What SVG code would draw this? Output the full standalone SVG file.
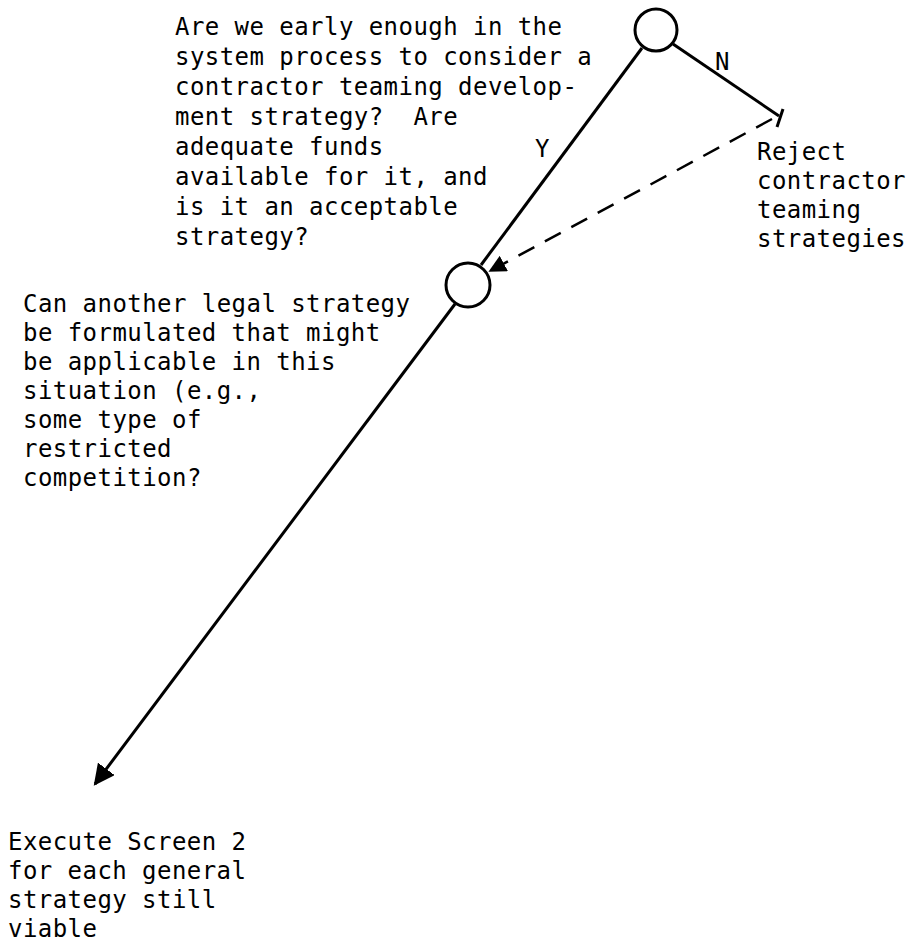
<svg xmlns="http://www.w3.org/2000/svg" width="922" height="945" viewBox="0 0 922 945">
  <style>
    .t { font-family: "DejaVu Sans Mono", "Liberation Mono", monospace; font-size: 24px; letter-spacing: 0.45px; fill: #000; white-space: pre; }
    .node { fill: #fff; stroke: #000; stroke-width: 3; }
    .edge { stroke: #000; stroke-width: 3; fill: none; }
    .dash { stroke: #000; stroke-width: 2.5; fill: none; stroke-dasharray: 18 12; }
  </style>
  <defs>
    <marker id="arrow" viewBox="0 0 10 10" refX="9" refY="5" markerWidth="7" markerHeight="7" orient="auto">
      <path d="M0,0 L10,5 L0,10 Z" fill="#000"/>
    </marker>
  </defs>

  <!-- connectors -->
  <g id="connectors">
    <line class="edge" x1="642" y1="48" x2="481" y2="265"/>
    <line class="edge" x1="673" y1="44" x2="779" y2="116"/>
    <line class="edge" x1="783" y1="109" x2="777" y2="127"/>
    <line class="dash" x1="772" y1="119" x2="490" y2="271" marker-end="url(#arrow)"/>
    <line class="edge" x1="455" y1="304" x2="95" y2="784" marker-end="url(#arrow)"/>
    <text class="t" x="535" y="157">Y</text>
    <text class="t" x="715" y="70">N</text>
  </g>

  <!-- decision 1 -->
  <g id="q1">
    <circle class="node" cx="656" cy="30" r="21"/>
    <text class="t">
      <tspan x="175" y="35">Are we early enough in the</tspan>
      <tspan x="175" y="65">system process to consider a</tspan>
      <tspan x="175" y="95">contractor teaming develop-</tspan>
      <tspan x="175" y="125">ment strategy?  Are</tspan>
      <tspan x="175" y="155">adequate funds</tspan>
      <tspan x="175" y="185">available for it, and</tspan>
      <tspan x="175" y="215">is it an acceptable</tspan>
      <tspan x="175" y="245">strategy?</tspan>
    </text>
  </g>

  <!-- reject outcome -->
  <g id="reject">
    <text class="t">
      <tspan x="757" y="160">Reject</tspan>
      <tspan x="757" y="189">contractor</tspan>
      <tspan x="757" y="218">teaming</tspan>
      <tspan x="757" y="247">strategies</tspan>
    </text>
  </g>

  <!-- decision 2 -->
  <g id="q2">
    <circle class="node" cx="468" cy="285" r="22"/>
    <text class="t">
      <tspan x="23" y="312">Can another legal strategy</tspan>
      <tspan x="23" y="341">be formulated that might</tspan>
      <tspan x="23" y="370">be applicable in this</tspan>
      <tspan x="23" y="399">situation (e.g.,</tspan>
      <tspan x="23" y="428">some type of</tspan>
      <tspan x="23" y="457">restricted</tspan>
      <tspan x="23" y="486">competition?</tspan>
    </text>
  </g>

  <!-- final step -->
  <g id="execute">
    <text class="t">
      <tspan x="8" y="850">Execute Screen 2</tspan>
      <tspan x="8" y="879">for each general</tspan>
      <tspan x="8" y="908">strategy still</tspan>
      <tspan x="8" y="937">viable</tspan>
    </text>
  </g>
</svg>
